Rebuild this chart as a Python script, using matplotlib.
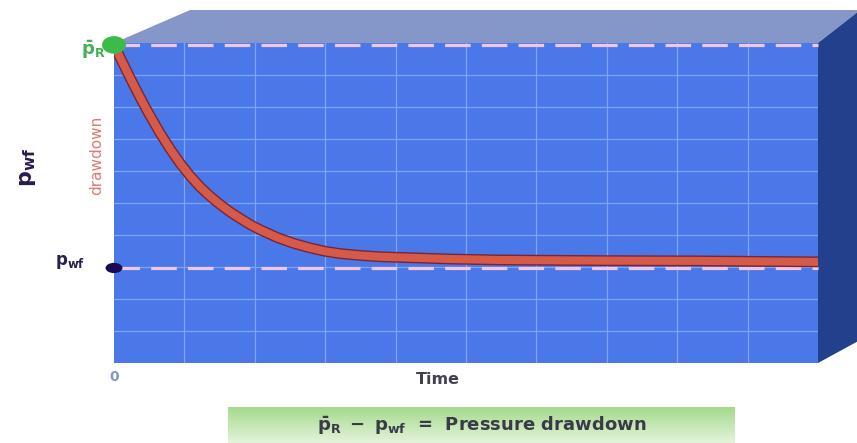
import numpy as np
import matplotlib
matplotlib.use("Agg")
import matplotlib.pyplot as plt
from matplotlib.patches import Polygon, Ellipse
import matplotlib.patheffects as pe

# curve (time, p_wf) on a 0..10 grid
time = [0.0, 0.06, 0.19, 0.33, 0.47, 0.65, 0.80, 0.94, 1.08, 1.22, 1.36, 1.51, 1.65, 1.79,
        1.93, 2.07, 2.32, 2.55, 2.78, 3.0, 3.21, 3.5, 3.78, 4.35, 4.77, 5.48, 6.9, 8.32, 10.0]
p_wf = [9.94, 9.67, 9.08, 8.47, 7.89, 7.2, 6.68, 6.24, 5.85, 5.51, 5.22, 4.95, 4.72, 4.52,
        4.33, 4.17, 3.92, 3.74, 3.6, 3.49, 3.42, 3.36, 3.32, 3.28, 3.25, 3.22, 3.2, 3.19, 3.16]
p_res = 9.94
p_wf_level = 2.97

W, H = 857, 443
fig = plt.figure(figsize=(W / 100, H / 100), dpi=100)
fig.patch.set_facecolor("white")
ax = fig.add_axes([114 / W, (H - 363) / H, 704 / W, 320 / H])
ax.set_facecolor("#4a78e8")
for s in ax.spines.values():
    s.set_visible(False)
ax.set_xticks([])
ax.set_yticks([])

# grid
for g in range(1, 10):
    ax.axvline(g, color="#7ea4f4", lw=0.9, zorder=1)
    ax.axhline(g, color="#7ea4f4", lw=0.9, zorder=1)

# 3d box faces
top = Polygon([(0, 1), (0.108, 1.103), (1.06, 1.103), (1, 1)], closed=True,
              transform=ax.transAxes, facecolor="#8596c8", edgecolor="none", clip_on=False)
right = Polygon([(1, 1), (1.06, 1.103), (1.06, 0.072), (1, 0)], closed=True,
                transform=ax.transAxes, facecolor="#23408c", edgecolor="none", clip_on=False)
ax.add_patch(top)
ax.add_patch(right)

# dashed reference lines
for lvl in (p_res, p_wf_level):
    ax.axhline(lvl, color="#efc6e6", lw=2.3, dashes=(8, 3.5), zorder=3, clip_on=False)

# the drawdown curve
ax.plot(time, p_wf, color="#d65a48", lw=5.8, solid_capstyle="round", solid_joinstyle="round",
        zorder=4, path_effects=[pe.Stroke(linewidth=7.8, foreground="#7a2436"), pe.Normal()])

# end points
ax.add_patch(Ellipse((0, p_res), 0.34, 0.55, facecolor="#3dbb4a", edgecolor="none",
                     zorder=5, clip_on=False))
ax.add_patch(Ellipse((0, p_wf_level), 0.24, 0.32, facecolor="#1a0c4e", edgecolor="none",
                     zorder=5, clip_on=False))

# labels
ax.text(-0.3, 9.8, r"$\mathbf{\bar{p}_R}$", color="#44b055", fontsize=13,
        ha="center", va="center", clip_on=False)
ax.text(-0.62, 3.15, r"$\mathbf{p_{wf}}$", color="#2a2050", fontsize=12,
        ha="center", va="center", clip_on=False)
ax.text(-1.22, 6.1, r"$\mathbf{p_{wf}}$", color="#2a1a50", fontsize=16, rotation=90,
        ha="center", va="center", clip_on=False)
ax.text(-0.24, 6.5, "drawdown", color="#e07a6c", fontsize=11, rotation=90,
        ha="center", va="center", clip_on=False)
ax.text(0, -0.45, "0", color="#8a96c8", fontsize=10, fontweight="bold",
        ha="center", va="center", clip_on=False)
ax.text(4.6, -0.53, "Time", color="#404050", fontsize=11.5, fontweight="bold",
        ha="center", va="center", clip_on=False)

# green caption box with vertical gradient (darker on top)
grad = np.linspace(0, 1, 64).reshape(-1, 1)
cmap = matplotlib.colors.LinearSegmentedColormap.from_list("g", ["#a5da8c", "#e9f6e2"])
ax.imshow(grad, cmap=cmap, aspect="auto", origin="upper",
          extent=(0.162, 0.882, -0.26, -0.14),
          transform=ax.transAxes, clip_on=False, zorder=2)
ax.set_xlim(0, 10)
ax.set_ylim(0, 10)
ax.text(5.22, -1.95, r"$\mathbf{\bar{p}_R\ -\ p_{wf}}$  =  Pressure drawdown",
        color="#3a3a48", fontsize=13, fontweight="bold",
        ha="center", va="center", clip_on=False)

fig.savefig("out.png", dpi=100, facecolor="white")
